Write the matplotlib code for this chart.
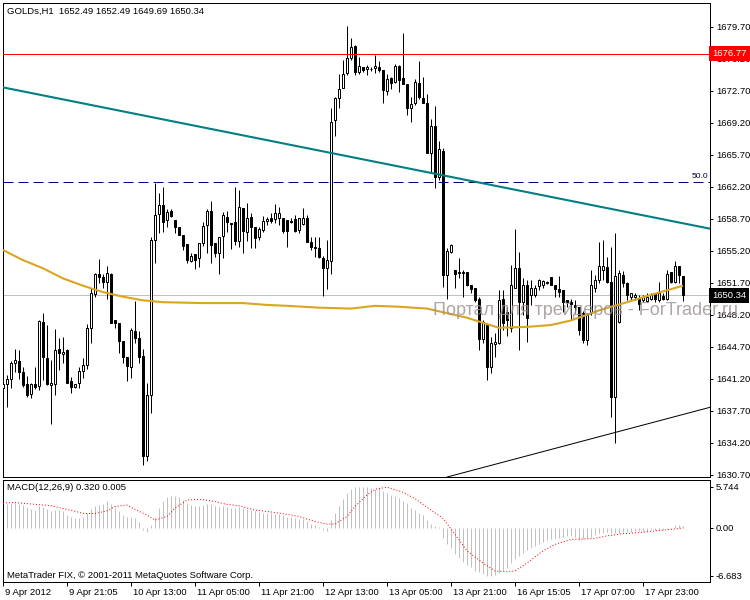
import numpy as np
import matplotlib
matplotlib.use("Agg")
import matplotlib.pyplot as plt
import matplotlib.transforms as mtransforms

plt.rcParams['font.family'] = ['Liberation Sans', 'DejaVu Sans']

# GOLDs H1 candles (bar 0 = 9 Apr 2012 00:00)
opens = [1640.2, 1640.6, 1641.2, 1642.9, 1643.2, 1642.0, 1640.7, 1639.6, 1640.7, 1640.4,
         1647.4, 1643.5, 1640.5, 1640.7, 1644.5, 1643.9, 1644.4, 1641.0, 1640.3, 1640.8,
         1642.1, 1642.7, 1646.8, 1650.5, 1652.7, 1652.3, 1651.8, 1652.7, 1647.7, 1647.3,
         1645.3, 1643.6, 1642.5, 1646.4, 1645.7, 1643.7, 1632.8, 1639.4, 1656.4, 1659.2,
         1660.2, 1658.6, 1659.6, 1658.6, 1657.8, 1656.9, 1656.0, 1654.1, 1654.9, 1654.4,
         1656.1, 1658.0, 1659.6, 1656.1, 1655.0, 1656.8, 1658.9, 1658.3, 1658.4, 1656.3,
         1659.9, 1657.3, 1658.9, 1657.8, 1656.7, 1657.5, 1658.5, 1658.8, 1658.7, 1658.8,
         1658.8, 1658.6, 1658.5, 1658.7, 1657.5, 1658.2, 1658.8, 1656.2, 1655.6, 1655.5,
         1654.4, 1653.3, 1654.1, 1669.5, 1671.9, 1673.0, 1674.7, 1676.3, 1677.6, 1674.8,
         1675.3, 1675.1, 1675.1, 1675.2, 1675.3, 1675.0, 1672.7, 1674.1, 1673.7, 1675.4,
         1674.1, 1673.5, 1670.8, 1671.4, 1673.6, 1671.9, 1671.4, 1665.9, 1668.9, 1663.3,
         1666.1, 1652.6, 1655.1, 1653.1, 1652.9, 1652.9, 1652.9, 1651.5, 1651.1, 1650.0,
         1645.6, 1647.1, 1642.5, 1645.0, 1645.1, 1649.9, 1648.5, 1646.8, 1651.2, 1653.3,
         1649.6, 1651.5, 1650.4, 1650.4, 1651.4, 1651.5, 1651.7, 1652.3, 1651.5, 1651.0,
         1650.9, 1649.8, 1649.6, 1649.3, 1649.1, 1648.4, 1645.5, 1648.4, 1651.2, 1652.0,
         1653.1, 1653.4, 1651.8, 1639.2, 1647.4, 1652.6, 1651.7, 1650.2, 1650.2, 1650.0,
         1649.8, 1649.7, 1650.0, 1650.5, 1649.8, 1650.3, 1649.9, 1652.9, 1651.8, 1653.6,
         1652.49]
highs = [1641.0, 1641.6, 1643.2, 1644.5, 1644.4, 1642.5, 1641.5, 1640.8, 1642.5, 1647.7,
         1648.4, 1647.1, 1643.3, 1646.7, 1645.7, 1645.8, 1644.5, 1641.4, 1640.7, 1642.5,
         1643.5, 1647.2, 1651.2, 1652.8, 1654.3, 1652.7, 1653.6, 1652.8, 1647.7, 1647.3,
         1645.3, 1643.6, 1646.8, 1649.7, 1646.4, 1644.5, 1640.8, 1656.7, 1662.6, 1661.5,
         1662.2, 1659.8, 1659.8, 1658.6, 1657.8, 1656.9, 1656.0, 1655.0, 1654.9, 1656.1,
         1658.4, 1659.8, 1660.7, 1656.1, 1656.7, 1659.5, 1659.6, 1658.3, 1662.2, 1661.9,
         1659.9, 1660.4, 1659.3, 1657.8, 1657.8, 1659.0, 1658.9, 1659.3, 1660.3, 1660.0,
         1658.8, 1658.6, 1658.8, 1659.1, 1658.8, 1659.9, 1659.1, 1656.7, 1656.7, 1656.7,
         1654.6, 1656.4, 1670.8, 1672.0, 1674.6, 1676.1, 1679.8, 1678.5, 1677.7, 1676.4,
         1675.3, 1675.5, 1675.3, 1676.6, 1676.0, 1675.0, 1674.6, 1674.2, 1675.6, 1675.5,
         1679.0, 1673.5, 1672.0, 1674.0, 1676.0, 1674.2, 1672.4, 1669.6, 1671.1, 1667.2,
         1666.5, 1655.5, 1656.0, 1653.1, 1654.4, 1653.1, 1652.9, 1651.5, 1651.2, 1650.2,
         1647.6, 1647.3, 1645.8, 1646.2, 1650.9, 1650.9, 1649.1, 1653.7, 1657.6, 1655.1,
         1652.2, 1652.0, 1652.0, 1651.5, 1652.1, 1652.0, 1651.9, 1652.3, 1651.5, 1652.5,
         1650.9, 1649.8, 1649.9, 1649.8, 1649.1, 1648.6, 1648.4, 1653.1, 1652.6, 1656.2,
         1656.4, 1654.5, 1655.6, 1657.2, 1653.1, 1653.0, 1651.8, 1650.6, 1650.6, 1650.4,
         1650.4, 1650.6, 1650.6, 1650.6, 1651.8, 1650.6, 1653.1, 1652.9, 1654.1, 1653.6,
         1652.49]
lows = [1639.2, 1638.1, 1640.2, 1642.0, 1641.2, 1640.3, 1639.2, 1639.1, 1640.1, 1640.0,
        1641.1, 1640.5, 1636.3, 1639.5, 1642.2, 1642.9, 1640.8, 1639.7, 1640.2, 1640.2,
        1641.3, 1642.3, 1645.1, 1650.2, 1651.7, 1651.2, 1650.0, 1647.3, 1646.8, 1644.0,
        1643.0, 1641.0, 1641.3, 1645.1, 1643.0, 1631.8, 1632.2, 1637.5, 1653.9, 1657.2,
        1657.3, 1657.8, 1658.9, 1657.2, 1656.9, 1655.3, 1653.9, 1654.0, 1653.2, 1653.4,
        1655.7, 1655.0, 1653.9, 1654.5, 1652.7, 1654.4, 1657.3, 1655.4, 1655.8, 1655.6,
        1655.0, 1656.3, 1655.5, 1655.5, 1656.4, 1657.3, 1658.0, 1658.3, 1658.3, 1658.0,
        1657.2, 1655.6, 1658.3, 1657.3, 1657.2, 1658.0, 1656.2, 1655.3, 1654.5, 1654.4,
        1650.3, 1651.0, 1652.7, 1667.8, 1670.8, 1673.0, 1674.4, 1676.1, 1674.4, 1674.6,
        1674.8, 1674.4, 1674.9, 1674.7, 1674.8, 1671.4, 1672.3, 1672.9, 1673.6, 1672.6,
        1673.5, 1670.1, 1669.3, 1671.2, 1671.8, 1671.4, 1665.9, 1663.7, 1662.1, 1663.0,
        1651.3, 1650.0, 1655.0, 1651.1, 1652.2, 1650.2, 1651.4, 1650.6, 1649.6, 1644.4,
        1645.1, 1641.1, 1641.9, 1643.6, 1645.0, 1646.6, 1645.9, 1646.3, 1651.1, 1644.4,
        1648.2, 1645.2, 1649.3, 1650.2, 1650.9, 1651.1, 1651.6, 1651.5, 1650.2, 1650.2,
        1648.5, 1649.1, 1647.6, 1648.4, 1646.0, 1645.1, 1644.9, 1648.2, 1650.7, 1651.7,
        1652.0, 1651.7, 1637.0, 1634.2, 1647.3, 1651.3, 1649.8, 1649.8, 1649.8, 1648.7,
        1649.6, 1649.6, 1649.8, 1649.6, 1649.6, 1649.8, 1649.8, 1651.7, 1651.7, 1651.7,
        1649.69]
closes = [1640.6, 1641.2, 1642.9, 1643.3, 1642.0, 1640.5, 1639.5, 1640.6, 1640.3, 1647.5,
          1643.6, 1640.7, 1640.8, 1644.4, 1644.0, 1644.2, 1640.8, 1640.3, 1640.6, 1642.1,
          1642.7, 1646.8, 1650.6, 1652.7, 1652.3, 1651.8, 1652.8, 1647.3, 1647.3, 1645.3,
          1643.6, 1642.6, 1646.6, 1645.7, 1643.6, 1632.8, 1639.4, 1656.4, 1659.1, 1660.2,
          1658.4, 1659.5, 1659.0, 1657.8, 1656.9, 1655.7, 1654.2, 1654.7, 1654.2, 1656.1,
          1657.9, 1659.6, 1655.8, 1655.0, 1656.7, 1659.1, 1658.4, 1658.2, 1656.3, 1660.0,
          1657.4, 1658.8, 1657.8, 1656.6, 1657.6, 1658.5, 1658.7, 1658.5, 1659.3, 1659.3,
          1657.4, 1657.4, 1658.4, 1657.4, 1658.8, 1658.8, 1656.2, 1655.6, 1655.5, 1654.5,
          1653.3, 1654.2, 1669.3, 1671.9, 1672.9, 1674.6, 1676.3, 1677.5, 1674.8, 1675.4,
          1675.0, 1675.3, 1675.1, 1675.4, 1675.0, 1672.8, 1674.0, 1673.6, 1675.4, 1673.9,
          1673.5, 1670.8, 1671.3, 1673.7, 1672.0, 1671.4, 1665.9, 1668.9, 1663.3, 1666.3,
          1652.6, 1655.2, 1655.8, 1652.7, 1652.8, 1652.8, 1651.5, 1651.0, 1649.8, 1645.6,
          1647.4, 1642.5, 1645.1, 1645.2, 1649.8, 1647.3, 1647.6, 1651.5, 1653.3, 1649.6,
          1651.5, 1647.9, 1651.2, 1651.2, 1652.0, 1651.9, 1651.8, 1651.5, 1651.0, 1650.7,
          1649.6, 1649.6, 1649.4, 1649.1, 1646.6, 1645.5, 1648.2, 1651.5, 1652.0, 1653.6,
          1653.6, 1651.8, 1639.2, 1652.5, 1652.8, 1651.7, 1650.4, 1650.6, 1650.4, 1649.4,
          1650.2, 1650.2, 1650.4, 1649.9, 1650.6, 1649.9, 1652.7, 1651.8, 1653.6, 1652.6,
          1650.34]

# moving average (gold line), read at some bars
ma_idx = [0, 5, 10, 15, 20, 25, 30, 35, 40, 50, 60, 66, 71, 79, 87, 93, 99, 106, 108,
          116, 121, 124, 131, 137, 142, 149, 156, 162, 166, 170]
ma_val = [1655.3, 1654.2, 1653.3, 1652.2, 1651.4, 1650.7, 1650.2, 1649.8, 1649.6, 1649.5,
          1649.5, 1649.3, 1649.2, 1649.0, 1648.9, 1649.2, 1649.1, 1648.9, 1648.7, 1647.9,
          1647.2, 1646.8, 1646.9, 1647.1, 1647.6, 1648.7, 1649.6, 1650.4, 1650.9, 1651.4]

# MACD(12,26,9) main histogram
macd_hist = [3.4, 3.4, 3.5, 3.5, 3.4, 3.2, 2.9, 2.6, 2.5, 3.0,
             2.9, 2.6, 2.4, 2.5, 2.5, 2.3, 1.8, 1.5, 1.35, 1.35,
             1.6, 2.05, 2.6, 3.0, 3.2, 3.4, 3.7, 3.4, 2.75, 2.3,
             1.8, 1.6, 1.6, 1.35, 0.9, -0.3, -0.5, 0.4, 1.6, 2.75,
             3.7, 4.3, 4.5, 4.4, 4.3, 3.9, 3.5, 3.2, 3.1, 3.1,
             3.2, 3.4, 3.3, 3.1, 2.9, 3.0, 2.9, 2.75, 2.75, 2.9,
             2.75, 2.6, 2.5, 2.3, 2.2, 2.1, 2.1, 2.1, 2.0, 2.0,
             1.8, 1.6, 1.5, 1.35, 1.2, 1.2, 1.0, 0.6, 0.4, 0.1,
             -0.3, -0.4, 1.05, 2.1, 3.1, 4.0, 4.9, 5.4, 5.7, 5.744,
             5.7, 5.7, 5.6, 5.5, 5.4, 5.2, 4.9, 4.6, 4.4, 4.15,
             3.8, 3.5, 2.75, 2.5, 2.15, 1.8, 1.1, 0.55, 0.3, 0.1,
             -1.45, -2.25, -2.85, -3.6, -4.2, -4.7, -5.2, -5.5, -6.0, -6.2,
             -6.4, -6.683, -6.65, -6.6, -6.3, -5.9, -5.6, -4.9, -4.4, -3.9,
             -3.45, -3.1, -2.85, -2.5, -2.25, -1.9, -1.65, -1.55, -1.45, -1.45,
             -1.3, -1.1, -1.1, -1.2, -1.65, -1.55, -1.45, -1.2, -0.95, -0.7,
             -0.7, -0.6, -0.7, -0.75, -0.7, -0.6, -0.5, -0.5, -0.45, -0.45,
             -0.4, -0.4, -0.35, -0.35, -0.25, -0.25, -0.15, -0.15, 0.4, 0.4,
             0.32]
# signal line, read at some bars
sig_idx = [0, 3, 8, 12, 16, 20, 23, 26, 28, 31, 33, 36, 38, 41, 43, 46, 49, 52, 56, 59,
           63, 66, 70, 74, 78, 81, 83, 86, 88, 91, 93, 96, 100, 103, 106, 110, 113, 116,
           120, 123, 126, 128, 131, 135, 138, 142, 145, 148, 151, 155, 160, 164, 168, 170]
sig_val = [3.5, 3.55, 3.3, 3.1, 2.6, 2.05, 2.0, 2.4, 3.0, 3.2, 2.6, 1.8, 1.1, 1.6, 2.75,
           3.9, 4.0, 3.8, 3.3, 3.1, 2.5, 2.3, 2.0, 1.6, 0.9, 0.55, 0.55, 1.6, 3.0, 4.6,
           5.4, 5.7, 5.0, 4.1, 2.9, 1.35, -0.9, -3.2, -4.9, -6.0, -6.1, -6.0, -4.9, -3.2,
           -2.3, -1.6, -1.55, -1.45, -1.1, -0.8, -0.6, -0.35, -0.15, 0.005]

time_idx = [0, 16, 32, 48, 64, 80, 96, 112, 128, 144, 160]
time_labels = ["9 Apr 2012", "9 Apr 21:05", "10 Apr 13:00", "11 Apr 05:00", "11 Apr 21:00",
               "12 Apr 13:00", "13 Apr 05:00", "13 Apr 21:00", "16 Apr 15:05",
               "17 Apr 07:00", "17 Apr 23:00"]
price_ticks = [1630.70 + 3.5 * k for k in range(15)]

resistance = 1676.77
fibo_50 = 1662.74
bid = 1650.34
teal_pts = [(0, 1673.09), (175, 1657.79)]
support_pts = [(112, 1630.59), (175, 1637.9)]

PX = 0.72  # one pixel in points
FS = 6.8
W, H = 750, 600

fig = plt.figure(figsize=(7.5, 6), dpi=100)
ax = fig.add_axes([2.5 / W, 123 / H, 707.5 / W, 474 / H])
ax2 = fig.add_axes([2.5 / W, 18 / H, 707.5 / W, 102 / H])

idx = np.arange(len(opens))
o = np.array(opens); c = np.array(closes)
hi = np.array(highs); lo = np.array(lows)

ax.axhline(bid, color='#c0c0c0', lw=PX, zorder=1)
ax.vlines(idx, lo, hi, color='black', lw=PX, zorder=2)
body_col = ['white' if cc >= oo else 'black' for oo, cc in zip(o, c)]
ax.bar(idx, np.abs(c - o), bottom=np.minimum(o, c), width=0.5, color=body_col,
       edgecolor='black', linewidth=PX, zorder=3)

ax.plot(ma_idx, ma_val, color='#daa520', lw=1.5, zorder=4, solid_capstyle='butt')
ax.axhline(resistance, color='red', lw=PX, zorder=5)
ax.axhline(fibo_50, color='#000080', lw=PX, ls=(0, (10, 5)), zorder=5)
ax.axline(teal_pts[0], teal_pts[1], color='#008080', lw=1.5, zorder=5)
ax.axline(support_pts[0], support_pts[1], color='black', lw=PX, zorder=5)

ax.set_xlim(-0.125, 176.75)
ax.set_ylim(1630.48, 1682.32)
ax.set_xticks([])
ax.yaxis.tick_right()
ax.set_yticks(price_ticks)
ax.set_yticklabels([f"{p:.2f}" for p in price_ticks])
ax.tick_params(axis='y', direction='out', length=2.2, width=PX, pad=2, labelsize=FS)

# price labels on the scale
off = mtransforms.ScaledTranslation(2 / 100, 0, fig.dpi_scale_trans)
tr = mtransforms.blended_transform_factory(ax.transAxes, ax.transData) + off
ax.text(1.0, resistance, f"{resistance:.2f}", transform=tr, ha='left', va='center',
        fontsize=FS, color='white', zorder=10, clip_on=False,
        bbox=dict(facecolor='red', edgecolor='none', pad=2.2))
ax.text(1.0, bid, f"{bid:.2f}", transform=tr, ha='left', va='center',
        fontsize=FS, color='white', zorder=10, clip_on=False,
        bbox=dict(facecolor='black', edgecolor='none', pad=2.2))
tr2 = mtransforms.blended_transform_factory(ax.transAxes, ax.transData)
ax.text(0.997, fibo_50 + 0.25, "50.0", transform=tr2, ha='right', va='bottom',
        fontsize=6, color='#000040', zorder=6)

# MACD panel
ax2.vlines(idx, 0, macd_hist, color='#c0c0c0', lw=PX, zorder=2)
ax2.plot(sig_idx, sig_val, color='red', lw=PX, ls=(0, (1, 2)), zorder=3)
ax2.set_xlim(-0.125, 176.75)
ax2.set_ylim(-7.55, 6.70)
ax2.yaxis.tick_right()
ax2.set_yticks([5.744, 0.0, -6.683])
ax2.set_yticklabels(["5.744", "0.00", "-6.683"])
ax2.tick_params(axis='y', direction='out', length=2.2, width=PX, pad=2, labelsize=FS)
ax2.set_xticks(time_idx)
ax2.set_xticklabels(time_labels)
ax2.tick_params(axis='x', direction='out', length=3, width=PX, pad=1, labelsize=FS)
xoff = mtransforms.ScaledTranslation(2 / 100, 0, fig.dpi_scale_trans)
for lab in ax2.get_xticklabels():
    lab.set_horizontalalignment('left')
    lab.set_transform(lab.get_transform() + xoff)

for a in (ax, ax2):
    for s in a.spines.values():
        s.set_linewidth(PX)
        s.set_color('black')

fig.text(7 / W, 1 - 11 / H, "GOLDs,H1  1652.49 1652.49 1649.69 1650.34",
         fontsize=FS, va='center', ha='left')
fig.text(7 / W, 1 - 488 / H, "MACD(12,26,9) 0.320 0.005",
         fontsize=FS, va='center', ha='left')
fig.text(7 / W, 1 - 575 / H, "MetaTrader FIX, © 2001-2011 MetaQuotes Software Corp.",
         fontsize=FS, va='center', ha='left')
fig.text(433 / W, 1 - 310 / H, "Портал для трейдеров - ForTrader.ru",
         fontsize=13, va='center', ha='left', color='#9c9090', alpha=0.8, zorder=20)

fig.savefig("out.png", dpi=100)
